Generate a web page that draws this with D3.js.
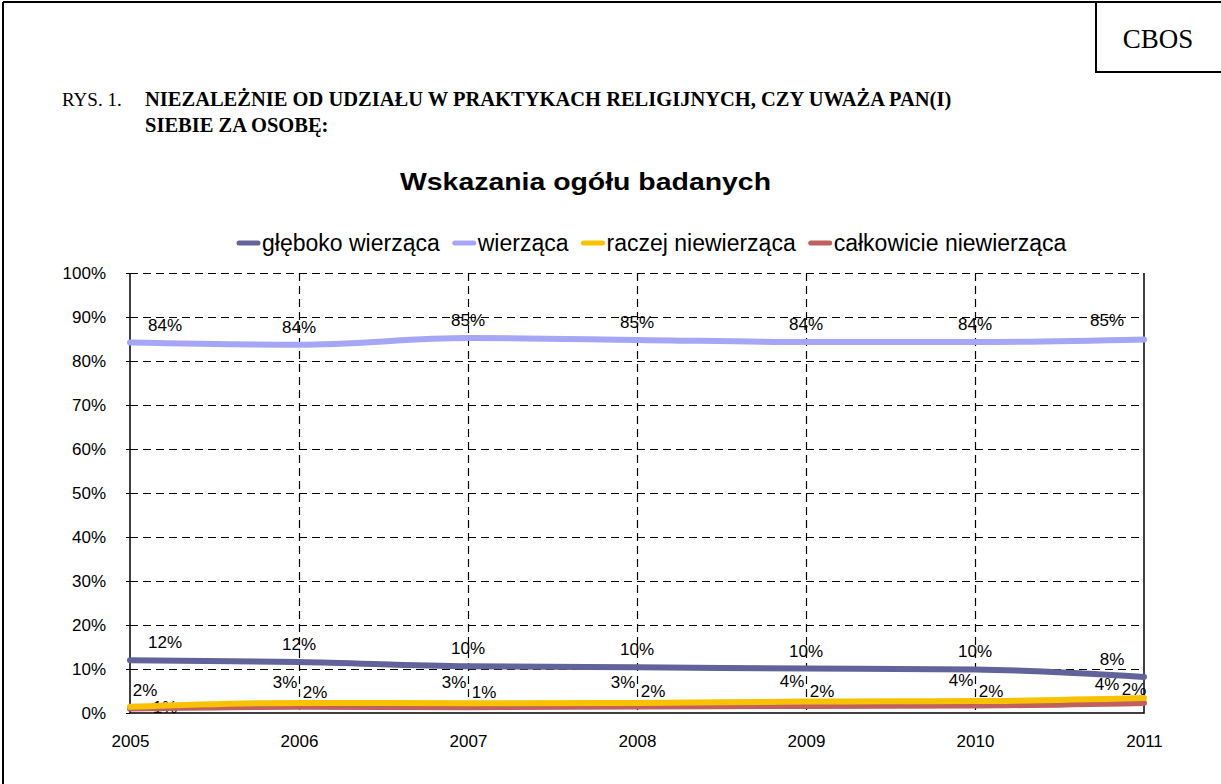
<!DOCTYPE html>
<html>
<head>
<meta charset="utf-8">
<script src="https://cdn.jsdelivr.net/npm/d3@7"></script>
<style>
  body { margin: 0; background: #fff; }
  text { font-family: Arial, "Liberation Sans", sans-serif; }
  .serif { font-family: "Times New Roman", "Liberation Serif", serif; }
</style>
</head>
<body>
<div id="chart"></div>
<script>
// data
const years = [2005, 2006, 2007, 2008, 2009, 2010, 2011];
const glebokoWierzaca = [12.0, 11.6, 10.6, 10.4, 10.1, 9.9, 8.2];
const wierzaca = [84.2, 83.7, 85.2, 84.8, 84.3, 84.3, 84.9];
const raczejNiewierzaca = [1.4, 2.3, 2.2, 2.3, 2.6, 2.7, 3.4];
const calkowicieNiewierzaca = [1.0, 1.4, 1.3, 1.5, 1.6, 1.7, 2.3];

// data labels as printed in the chart
const glebokoLabels = ["12%", "12%", "10%", "10%", "10%", "10%", "8%"];
const wierzacaLabels = ["84%", "84%", "85%", "85%", "84%", "84%", "85%"];
const raczejLabels = ["2%", "3%", "3%", "3%", "4%", "4%", "4%"];
const calkowicieLabels = ["1%", "2%", "1%", "2%", "2%", "2%", "2%"];

const seriesNames = ["głęboko wierząca", "wierząca", "raczej niewierząca", "całkowicie niewierząca"];
const yTicks = [0, 10, 20, 30, 40, 50, 60, 70, 80, 90, 100];

const W = 1221, H = 784;
const plot = { left: 130, right: 1144, top: 273, bottom: 713 };

const colors = ["#62639b", "#a6a6f6", "#f8c200", "#c0605f"];

// where excel put the labels (relative to the point)
const labelPos = [
  { dx: 0, dy: -12, first: [35, -12], last: [-32, -12] },
  { dx: 0, dy: -12, first: [35, -12], last: [-37, -13] },
  { dx: -14, dy: -15, first: [15, -11], last: [-37, -8] },
  { dx: 16, dy: -9, first: [35, 4], last: [-10, -8] }
];

const series = [
  { name: seriesNames[0], values: glebokoWierzaca, labels: glebokoLabels },
  { name: seriesNames[1], values: wierzaca, labels: wierzacaLabels },
  { name: seriesNames[2], values: raczejNiewierzaca, labels: raczejLabels },
  { name: seriesNames[3], values: calkowicieNiewierzaca, labels: calkowicieLabels }
].map((s, i) => ({ ...s, color: colors[i], pos: labelPos[i] }));

const x = d3.scaleLinear().domain([2005, 2011]).range([plot.left, plot.right]);
const y = d3.scaleLinear().domain([0, 100]).range([plot.bottom, plot.top]);

const svg = d3.select("#chart").append("svg")
  .attr("width", W).attr("height", H);

svg.append("rect").attr("width", W).attr("height", H).attr("fill", "#fff");

// page frame + CBOS box
svg.append("line").attr("x1", 3).attr("x2", 3).attr("y1", 2).attr("y2", H)
  .attr("stroke", "#000").attr("stroke-width", 2);
svg.append("line").attr("x1", 3).attr("x2", W).attr("y1", 2).attr("y2", 2)
  .attr("stroke", "#000").attr("stroke-width", 2);
svg.append("path").attr("d", `M1096,2V72H${W}`)
  .attr("fill", "none").attr("stroke", "#000").attr("stroke-width", 2);
svg.append("text").attr("class", "serif").attr("x", 1158).attr("y", 48)
  .attr("text-anchor", "middle").attr("font-size", 27).text("CBOS");

// heading
svg.append("text").attr("class", "serif").attr("x", 62).attr("y", 106)
  .attr("font-size", 19).text("RYS. 1.");
const head = svg.append("text").attr("class", "serif")
  .attr("font-size", 20.5).attr("font-weight", "bold");
head.append("tspan").attr("x", 145).attr("y", 106)
  .text("NIEZALEŻNIE OD UDZIAŁU W PRAKTYKACH RELIGIJNYCH, CZY UWAŻA PAN(I)");
head.append("tspan").attr("x", 145).attr("y", 132).text("SIEBIE ZA OSOBĘ:");

svg.append("text").attr("x", 400).attr("y", 190)
  .attr("font-size", 24).attr("font-weight", "bold")
  .attr("textLength", 371).attr("lengthAdjust", "spacingAndGlyphs")
  .text("Wskazania ogółu badanych");

// legend
const legend = svg.append("g").attr("transform", "translate(0,243)");
let lx = 236;
series.forEach(s => {
  legend.append("line").attr("x1", lx + 3).attr("x2", lx + 22).attr("y1", 0).attr("y2", 0)
    .attr("stroke", s.color).attr("stroke-width", 5).attr("stroke-linecap", "round");
  const t = legend.append("text").attr("x", lx + 26).attr("y", 8)
    .attr("font-size", 23).text(s.name);
  lx += 26 + t.node().getComputedTextLength() + 12;
});

// data labels (they sit under grid and lines in the original)
const labelsG = svg.append("g").attr("font-size", 17).attr("text-anchor", "middle").attr("fill", "#000");
series.forEach(s => {
  labelsG.selectAll(null).data(s.values).enter().append("text")
    .attr("x", (d, i) => x(years[i]) + (i === 0 ? s.pos.first[0] : i === years.length - 1 ? s.pos.last[0] : s.pos.dx))
    .attr("y", (d, i) => y(d) + (i === 0 ? s.pos.first[1] : i === years.length - 1 ? s.pos.last[1] : s.pos.dy))
    .text((d, i) => s.labels[i]);
});

// gridlines
const grid = svg.append("g").attr("stroke", "#000").attr("stroke-width", 1.2)
  .attr("stroke-dasharray", "8,5");
grid.selectAll(null).data(yTicks.filter(t => t > 0)).enter().append("line")
  .attr("x1", plot.left).attr("x2", plot.right)
  .attr("y1", d => Math.round(y(d)) + 0.5).attr("y2", d => Math.round(y(d)) + 0.5);
grid.selectAll(null).data(years.slice(1, -1)).enter().append("line")
  .attr("x1", d => Math.round(x(d)) + 0.5).attr("x2", d => Math.round(x(d)) + 0.5)
  .attr("y1", plot.top).attr("y2", plot.bottom);

// axes
const yAxis = d3.axisLeft(y).tickValues(yTicks).tickSize(4).tickPadding(20)
  .tickFormat(d => d + "%");
svg.append("g").attr("transform", `translate(${plot.left},0)`).call(yAxis)
  .call(g => g.select(".domain").remove())
  .call(g => g.selectAll("text").attr("font-size", 17).attr("fill", "#000")
    .attr("font-family", "Arial, 'Liberation Sans', sans-serif"));

const xAxis = d3.axisBottom(x).tickValues(years).tickSize(0).tickPadding(22)
  .tickFormat(d3.format("d"));
svg.append("g").attr("transform", `translate(0,${plot.bottom})`).call(xAxis)
  .call(g => g.select(".domain").remove())
  .call(g => g.selectAll("text").attr("font-size", 17).attr("fill", "#000")
    .attr("font-family", "Arial, 'Liberation Sans', sans-serif"));

svg.append("path")
  .attr("d", `M${plot.left},${plot.top}V${plot.bottom}H${plot.right}V${plot.top}`)
  .attr("fill", "none").attr("stroke", "#000").attr("stroke-width", 1.5);

// lines: red first so yellow sits over it as in the original
const line = d3.line().x((d, i) => x(years[i])).y(d => y(d)).curve(d3.curveMonotoneX);
const drawOrder = [0, 1, 3, 2];
drawOrder.forEach(k => {
  const s = series[k];
  svg.append("path").datum(s.values).attr("d", line)
    .attr("fill", "none").attr("stroke", s.color).attr("stroke-width", 6)
    .attr("stroke-linecap", "round").attr("stroke-linejoin", "round");
});
</script>
</body>
</html>
